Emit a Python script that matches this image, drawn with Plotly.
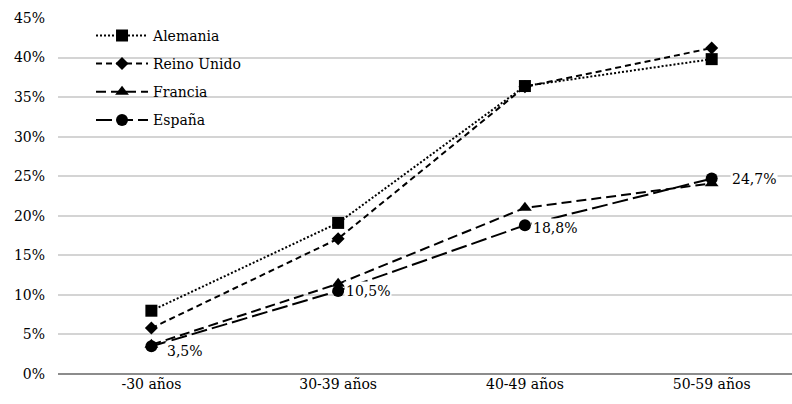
import plotly.graph_objects as go

categories = ["-30 años", "30-39 años", "40-49 años", "50-59 años"]
alemania = [8.0, 19.1, 36.4, 39.8]
reino_unido = [5.8, 17.1, 36.3, 41.2]
francia = [3.7, 11.4, 21.0, 24.1]
espana = [3.5, 10.5, 18.8, 24.7]
y_ticks = [0, 5, 10, 15, 20, 25, 30, 35, 40, 45]
y_tick_labels = [f"{v}%" for v in y_ticks]

FONT = "DejaVu Serif"
FS = 14

series = [
    ("Alemania", alemania, "2px,2px", "square", 12),
    ("Reino Unido", reino_unido, "6px,4px", "diamond", 10),
    ("Francia", francia, "10px,5px", "triangle-up", 12),
    ("España", espana, "16px,5px", "circle", 12),
]

fig = go.Figure()
for name, vals, dash, sym, size in series:
    fig.add_trace(go.Scatter(
        x=categories, y=vals, name=name, legendgroup=name,
        mode="lines+markers",
        line=dict(color="black", width=2, dash=dash),
        marker=dict(symbol=sym, size=size, color="black"),
    ))

# value labels for España
shifts = [(14, -5), (6, 0), (6, -3), (18, 0)]
for cat, v, (dx, dy) in zip(categories, espana, shifts):
    fig.add_annotation(
        x=cat, y=v, text=f"{v:.1f}%".replace(".", ","), showarrow=False,
        xanchor="left", yanchor="middle", xshift=dx, yshift=dy,
        font=dict(family=FONT, size=FS, color="black"), bgcolor="white",
    )

fig.update_layout(
    width=792, height=404,
    margin=dict(l=58, r=0, t=18, b=30),
    paper_bgcolor="white", plot_bgcolor="white",
    font=dict(family=FONT, size=FS, color="black"),
    showlegend=True,
    legend=dict(
        x=0.045, y=0.995, xanchor="left", yanchor="top",
        bgcolor="rgba(255,255,255,0)", font=dict(family=FONT, size=FS),
        itemwidth=52, tracegroupgap=7,
    ),
    xaxis=dict(
        type="category", range=[-0.5, 3.43], showgrid=False,
        showline=False, ticks="", tickfont=dict(family=FONT, size=FS),
    ),
    yaxis=dict(
        range=[0, 45], tickvals=y_ticks, ticktext=y_tick_labels,
        showgrid=True, gridcolor="#d4d4d4", gridwidth=1.5,
        zeroline=True, zerolinecolor="#8c8c8c", zerolinewidth=1.5,
        showline=False, ticks="", ticklabelstandoff=12,
        tickfont=dict(family=FONT, size=FS),
    ),
)

fig.write_html("out.html")
